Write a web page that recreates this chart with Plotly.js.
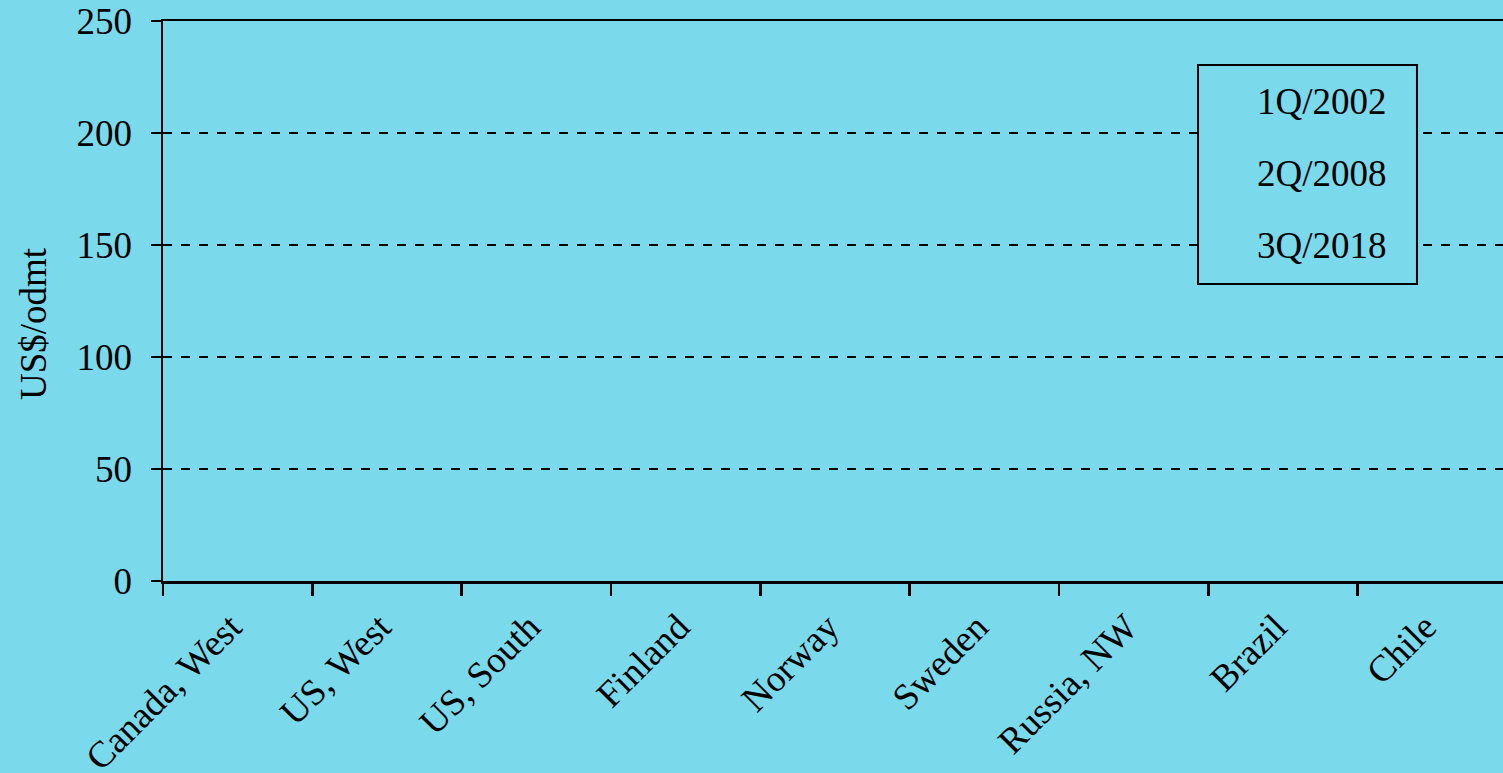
<!DOCTYPE html>
<html>
<head>
<meta charset="utf-8">
<script src="https://cdn.plot.ly/plotly-3.0.1.min.js"></script>
<style>html,body{margin:0;padding:0;background:#7BD9EC;overflow:hidden;}#chart{width:1503px;height:773px;}</style>
</head>
<body>
<div id="chart"></div>
<script>
// Categories (regions) along the x axis
const regions = ["Canada, West", "US, West", "US, South", "Finland", "Norway", "Sweden", "Russia, NW", "Brazil", "Chile"];
// Series names (legend)
const seriesNames = ["1Q/2002", "2Q/2008", "3Q/2018"];
// Series values: no bars are visible in the reference, so no values can be read
const values1Q2002 = [null, null, null, null, null, null, null, null, null];
const values2Q2008 = [null, null, null, null, null, null, null, null, null];
const values3Q2018 = [null, null, null, null, null, null, null, null, null];
// Y axis ticks
const yTicks = [0, 50, 100, 150, 200, 250];
const yTitle = "US$/odmt";

const bg = "#7BD9EC";
const fontFam = "'Liberation Serif', 'Times New Roman', serif";
const fs = 37;
const seriesValues = [values1Q2002, values2Q2008, values3Q2018];

const traces = seriesNames.map((name, i) => ({
  type: "bar",
  name: name,
  x: regions,
  y: seriesValues[i],
  legendgroup: "g" + i,
  marker: {color: "rgba(0,0,0,0)", line: {width: 0}},
  hoverinfo: "skip"
}));

const layout = {
  width: 1503,
  height: 773,
  paper_bgcolor: bg,
  plot_bgcolor: bg,
  margin: {l: 163, r: 0, t: 21, b: 192, pad: 0},
  font: {family: fontFam, size: fs, color: "#000"},
  barmode: "group",
  showlegend: true,
  legend: {
    x: 0.7724, y: 0.9139, xanchor: "left", yanchor: "top",
    bgcolor: "rgba(0,0,0,0)", borderwidth: 0,
    font: {family: fontFam, size: fs, color: "#000"},
    traceorder: "grouped", tracegroupgap: 21, itemwidth: 49
  },
  shapes: [{
    type: "rect", xref: "paper", yref: "paper",
    x0: 0.7724, x1: 0.9358, y0: 0.5304, y1: 0.9214,
    fillcolor: bg, line: {color: "#000", width: 2}, layer: "above"
  }],
  annotations: [{
    text: yTitle, xref: "paper", yref: "paper",
    x: (33 - 163) / 1340, y: (581 - 324) / 560,
    xanchor: "center", yanchor: "middle", textangle: -90, showarrow: false,
    font: {family: fontFam, size: fs, color: "#000"}
  }],
  xaxis: {
    type: "category",
    categoryorder: "array",
    categoryarray: regions,
    range: [-0.5, 8.473],
    tickson: "boundaries",
    ticks: "outside", ticklen: 12, tickwidth: 2.5, tickcolor: "#000",
    showline: true, linecolor: "#000", linewidth: 2.5, mirror: true,
    showgrid: false, zeroline: false,
    tickangle: -45,
    ticklabelstandoff: 7,
    ticklabelshift: -7,
    tickfont: {family: fontFam, size: fs, color: "#000"},
    fixedrange: true
  },
  yaxis: {
    range: [0, 250],
    tickvals: yTicks,
    ticks: "outside", ticklen: 10, tickwidth: 2.5, tickcolor: "#000",
    showline: true, linecolor: "#000", linewidth: 2.5,
    showgrid: true, gridcolor: "#000", gridwidth: 2, griddash: "dash",
    zeroline: false,
    ticklabelstandoff: 11,
    tickfont: {family: fontFam, size: fs, color: "#000"},
    fixedrange: true
  }
};

Plotly.newPlot("chart", traces, layout, {displayModeBar: false, staticPlot: true});
</script>
</body>
</html>
